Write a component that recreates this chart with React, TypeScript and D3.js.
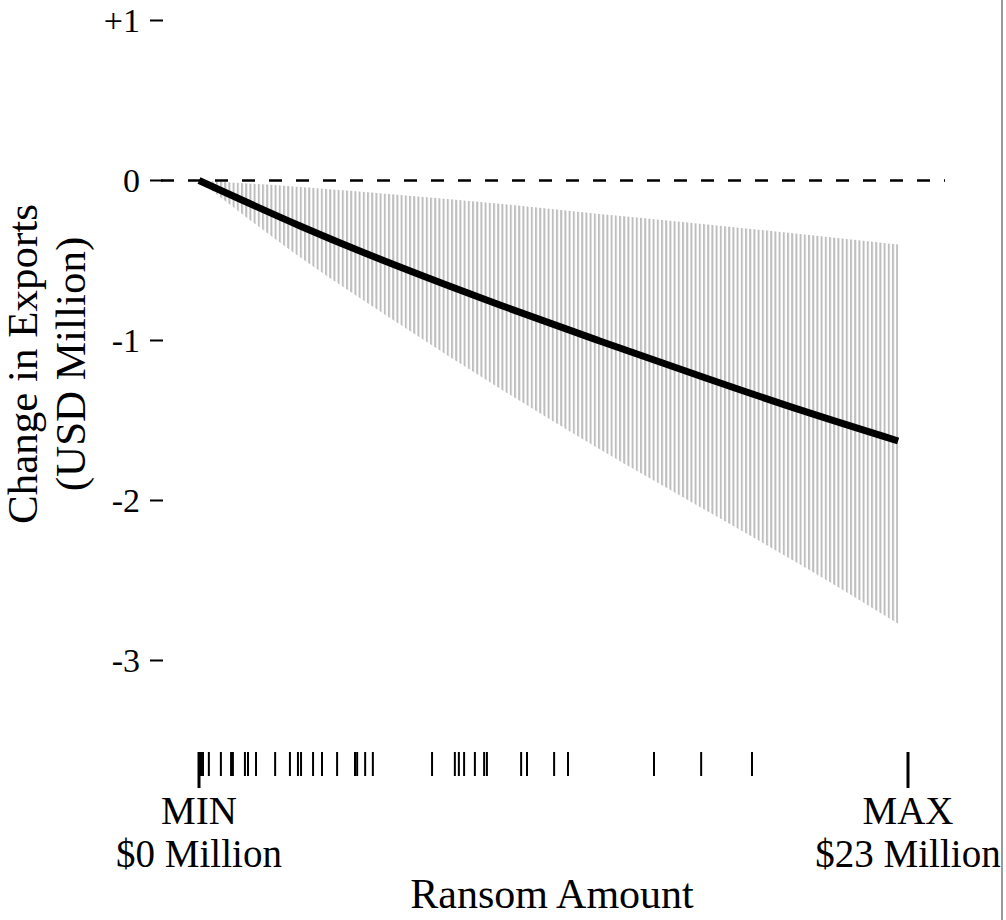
import React, { useEffect, useRef } from 'react';
import * as d3 from 'd3';

// marginal effect of ransom amount (USD million) on exports
const effectX = [0, 3.28, 6.52, 9.76, 13.0, 16.25, 19.5, 22.68];
const effect = [0, -0.284, -0.541, -0.778, -1.003, -1.222, -1.434, -1.628];
const upper = [0, -0.04, -0.09, -0.145, -0.21, -0.27, -0.335, -0.4];
const lower = [0, -0.48, -0.9, -1.3, -1.68, -2.04, -2.4, -2.77];

// observed ransom amounts (rug)
const ransoms = [
  0, 0.03, 0.06, 0.1, 0.13, 0.32, 0.71, 1.04, 1.1, 1.49, 1.59, 1.85, 2.47, 2.95,
  3.21, 3.31, 3.7, 3.99, 4.48, 5.06, 5.13, 5.39, 5.64, 7.56, 8.3, 8.43, 8.6,
  8.95, 9.25, 9.34, 10.45, 10.64, 11.52, 11.97, 14.76, 16.29, 17.94, 23.0,
];

const yTicks = [1, 0, -1, -2, -3];
const yTickLabels = ['+1', '0', '-1', '-2', '-3'];
const xTicks = [0, 23];
const xTickLabels = [['MIN', '$0 Million'], ['MAX', '$23 Million']];

const W = 1006;
const H = 920;
const FONT = '"Liberation Serif", "Times New Roman", serif';

const App: React.FC = () => {
  const svgRef = useRef<SVGSVGElement | null>(null);

  useEffect(() => {
    if (!svgRef.current) return;
    const svg = d3.select(svgRef.current);
    svg.selectAll('*').remove();

    const x = d3.scaleLinear().domain([0, 23]).range([199, 908]);
    const y = d3.scaleLinear().domain([-3, 1]).range([660.5, 20.5]);

    // hatch pattern for the confidence band
    const defs = svg.append('defs');
    const pat = defs.append('pattern')
      .attr('id', 'hatch')
      .attr('patternUnits', 'userSpaceOnUse')
      .attr('width', 4.2)
      .attr('height', 10)
      .attr('x', 199);
    pat.append('line')
      .attr('x1', 1).attr('x2', 1)
      .attr('y1', 0).attr('y2', 10)
      .attr('stroke', '#bebebe')
      .attr('stroke-width', 2);

    const band = effectX.map((d, i) => ({ x: d, lo: lower[i], hi: upper[i] }));
    const area = d3.area<{ x: number; lo: number; hi: number }>()
      .x(d => x(d.x))
      .y0(d => y(d.lo))
      .y1(d => y(d.hi))
      .curve(d3.curveMonotoneX);
    svg.append('path')
      .attr('d', area(band) as string)
      .attr('fill', 'url(#hatch)');

    // zero reference line
    svg.append('line')
      .attr('x1', 161).attr('x2', 945)
      .attr('y1', y(0)).attr('y2', y(0))
      .attr('stroke', '#000')
      .attr('stroke-width', 2.6)
      .attr('stroke-dasharray', '13,14');

    // effect line
    const line = d3.line<number>()
      .x((d, i) => x(effectX[i]))
      .y(d => y(d))
      .curve(d3.curveNatural);
    svg.append('path')
      .attr('d', line(effect) as string)
      .attr('fill', 'none')
      .attr('stroke', '#000')
      .attr('stroke-width', 7);

    // y axis
    const yg = svg.append('g');
    yTicks.forEach((t, i) => {
      yg.append('line')
        .attr('x1', 150).attr('x2', 163)
        .attr('y1', y(t)).attr('y2', y(t))
        .attr('stroke', '#000')
        .attr('stroke-width', 2);
      yg.append('text')
        .attr('x', 140)
        .attr('y', y(t))
        .attr('dy', '0.35em')
        .attr('text-anchor', 'end')
        .attr('font-family', FONT)
        .attr('font-size', 34)
        .text(yTickLabels[i]);
    });

    // rug
    svg.append('g')
      .selectAll('line')
      .data(ransoms)
      .join('line')
      .attr('x1', d => x(d)).attr('x2', d => x(d))
      .attr('y1', 752).attr('y2', 776)
      .attr('stroke', '#000')
      .attr('stroke-width', 2);

    // x axis (MIN / MAX only)
    const xg = svg.append('g');
    xTicks.forEach((t, i) => {
      xg.append('line')
        .attr('x1', x(t)).attr('x2', x(t))
        .attr('y1', 752).attr('y2', 788)
        .attr('stroke', '#000')
        .attr('stroke-width', 3);
      const txt = xg.append('text')
        .attr('text-anchor', 'middle')
        .attr('font-family', FONT)
        .attr('font-size', 39);
      txt.append('tspan').attr('x', x(t)).attr('y', 824).text(xTickLabels[i][0]);
      txt.append('tspan').attr('x', x(t)).attr('y', 867).text(xTickLabels[i][1]);
    });

    // titles
    svg.append('text')
      .attr('x', 552).attr('y', 908)
      .attr('text-anchor', 'middle')
      .attr('font-family', FONT)
      .attr('font-size', 42)
      .text('Ransom Amount');

    const yt = svg.append('text')
      .attr('transform', 'translate(0,364) rotate(-90)')
      .attr('text-anchor', 'middle')
      .attr('font-family', FONT)
      .attr('font-size', 43);
    yt.append('tspan').attr('x', 0).attr('y', 37).text('Change in Exports');
    yt.append('tspan').attr('x', 0).attr('y', 85).text('(USD Million)');

    // right border
    svg.append('line')
      .attr('x1', 1002).attr('x2', 1002)
      .attr('y1', 0).attr('y2', H)
      .attr('stroke', '#9a9a9a')
      .attr('stroke-width', 2);
    svg.append('rect')
      .attr('x', 1003).attr('y', 0)
      .attr('width', 3).attr('height', H)
      .attr('fill', '#fff');
  }, []);

  return (
    <svg
      ref={svgRef}
      width={W}
      height={H}
      viewBox={`0 0 ${W} ${H}`}
      style={{ position: 'absolute', left: 0, top: 0, display: 'block', background: '#fff' }}
    />
  );
};

export default App;
